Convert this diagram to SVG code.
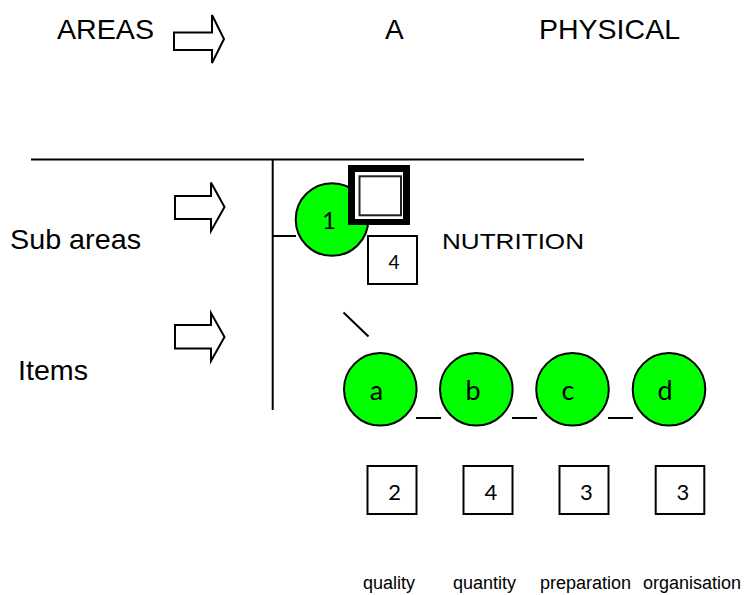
<svg xmlns="http://www.w3.org/2000/svg" width="747" height="595" viewBox="0 0 747 595">
<style>
.big{font-family:"Liberation Sans",Arial,sans-serif;font-size:28px;fill:#000}
.lbl{font-family:"Liberation Sans",Arial,sans-serif;font-size:18px;fill:#000}
.cal{font-family:Lato,"Open Sans",sans-serif;fill:#000;text-anchor:middle}
.ln{stroke:#000;stroke-width:2;fill:none}
.circ{fill:#00ff00;stroke:#000;stroke-width:2}
.box{fill:#fff;stroke:#000;stroke-width:2}
.arr{fill:#fff;stroke:#000;stroke-width:2;stroke-linejoin:miter}
</style>
<rect width="747" height="595" fill="#fff"/>
<g id="header">
<text class="big" x="57" y="38.5" textLength="97" lengthAdjust="spacingAndGlyphs">AREAS</text>
<polygon id="arrow-areas" class="arr" points="174,32.5 212,32.5 212,15 224,39 212,63 212,50 174,50"/>
<text class="big" x="385" y="39">A</text>
<text class="big" x="539" y="39" textLength="141" lengthAdjust="spacingAndGlyphs">PHYSICAL</text>
</g>
<g id="row-labels">
<text class="big" x="10" y="249" textLength="131" lengthAdjust="spacingAndGlyphs">Sub areas</text>
<polygon id="arrow-subareas" class="arr" points="175,196 211,196 211,182.5 224.5,207 211,231 211,219 175,219"/>
<text class="big" x="18" y="380" textLength="70" lengthAdjust="spacingAndGlyphs">Items</text>
<polygon id="arrow-items" class="arr" points="175,325 211,325 211,313 224.5,337 211,361 211,348.5 175,348.5"/>
</g>
<g id="connectors">
<line class="ln" x1="31" y1="159.5" x2="584" y2="159.5"/>
<line class="ln" x1="272.7" y1="159" x2="272.7" y2="410"/>
<line class="ln" x1="273" y1="236" x2="296" y2="236"/>
<line class="ln" x1="343.5" y1="312.5" x2="368.5" y2="336.5"/>
<line class="ln" x1="416" y1="418" x2="441" y2="418"/>
<line class="ln" x1="512" y1="418" x2="537" y2="418"/>
<line class="ln" x1="608" y1="418" x2="633" y2="418"/>
</g>
<g id="node-1">
<circle class="circ" cx="332" cy="219.5" r="36.3"/>
<text class="cal" x="329" y="229" font-size="24">1</text>
</g>
<g id="node-frame">
<rect x="348" y="165" width="62" height="60" fill="#000"/>
<rect x="355" y="172" width="48" height="47" fill="#fff"/>
<rect x="359.5" y="176.3" width="41.5" height="39" fill="#fff" stroke="#222" stroke-width="2"/>
</g>
<g id="node-score-1">
<rect class="box" x="368" y="236" width="49" height="48"/>
<text class="cal" x="394" y="269" font-size="19">4</text>
</g>
<g id="node-nutrition">
<text x="442" y="248.5" font-family="Liberation Sans, Arial, sans-serif" font-size="22" textLength="142" lengthAdjust="spacingAndGlyphs">NUTRITION</text>
</g>
<g id="node-a">
<circle class="circ" cx="380.3" cy="389.3" r="36.3"/>
<text class="cal" x="376.5" y="400" font-size="27">a</text>
</g>
<g id="node-b">
<circle class="circ" cx="476.3" cy="389.3" r="36.3"/>
<text class="cal" x="473" y="400" font-size="27">b</text>
</g>
<g id="node-c">
<circle class="circ" cx="572.5" cy="389.3" r="36.3"/>
<text class="cal" x="568" y="400" font-size="27">c</text>
</g>
<g id="node-d">
<circle class="circ" cx="669" cy="389.3" r="36.3"/>
<text class="cal" x="665" y="400" font-size="27">d</text>
</g>
<g id="scores">
<g id="score-a"><rect class="box" x="367.5" y="466" width="49" height="48"/><text class="cal" x="394.7" y="500" font-size="22">2</text></g>
<g id="score-b"><rect class="box" x="463.5" y="466" width="49" height="48"/><text class="cal" x="491" y="500" font-size="22">4</text></g>
<g id="score-c"><rect class="box" x="559.5" y="466" width="49" height="48"/><text class="cal" x="586.5" y="500" font-size="22">3</text></g>
<g id="score-d"><rect class="box" x="655.7" y="466" width="48.6" height="48"/><text class="cal" x="682.8" y="500" font-size="22">3</text></g>
</g>
<g id="item-labels">
<text class="lbl" x="363" y="588.5">quality</text>
<text class="lbl" x="453" y="588.5">quantity</text>
<text class="lbl" x="540" y="588.5">preparation</text>
<text class="lbl" x="643" y="588.5">organisation</text>
</g>
</svg>
